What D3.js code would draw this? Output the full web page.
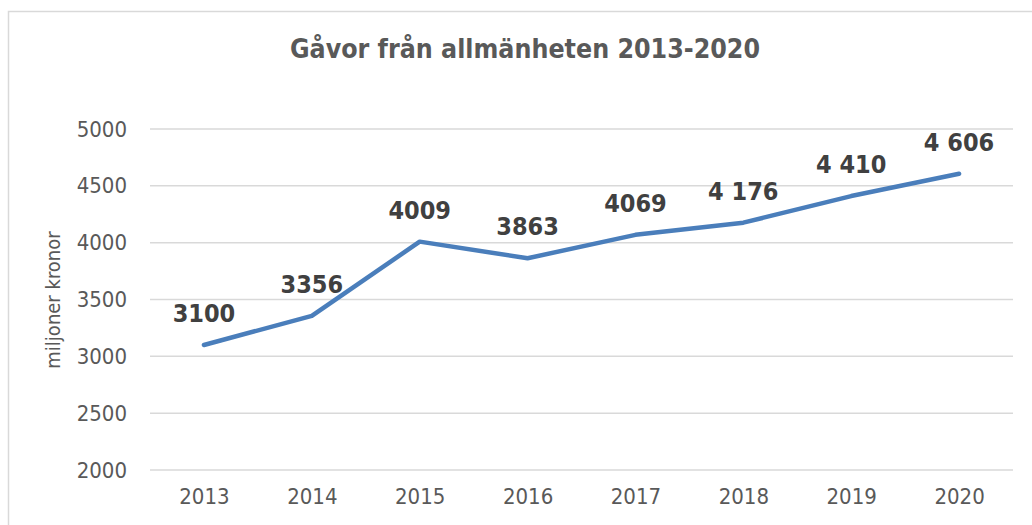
<!DOCTYPE html>
<html>
<head>
<meta charset="utf-8">
<script src="https://cdn.jsdelivr.net/npm/d3@7"></script>
<style>
  body { margin: 0; background: #fff; }
  svg { display: block; font-family: "DejaVu Sans Condensed", "DejaVu Sans", sans-serif; }
</style>
</head>
<body>
<svg width="1032" height="525"></svg>
<script>
// data
const years = ["2013", "2014", "2015", "2016", "2017", "2018", "2019", "2020"];
const gifts = [3100, 3356, 4009, 3863, 4069, 4176, 4410, 4606];
const giftLabels = ["3100", "3356", "4009", "3863", "4069", "4 176", "4 410", "4 606"];
const yTicks = [2000, 2500, 3000, 3500, 4000, 4500, 5000];

const svg = d3.select("svg");
const margin = { top: 129, left: 150, right: 19, bottom: 55 };
const width = 1032, height = 525;

// chart frame (only top + left visible in the crop)
svg.append("path")
  .attr("d", `M8.5,${height} V11.5 H${width}`)
  .attr("fill", "none")
  .attr("stroke", "#d9d9d9")
  .attr("stroke-width", 1.5);

svg.append("text")
  .attr("x", 525)
  .attr("y", 58)
  .attr("text-anchor", "middle")
  .attr("font-size", 26.5)
  .attr("font-weight", "bold")
  .attr("fill", "#595959")
  .text("Gåvor från allmänheten 2013-2020");

const x = d3.scalePoint()
  .domain(years)
  .range([margin.left, width - margin.right])
  .padding(0.5);

const y = d3.scaleLinear()
  .domain([2000, 5000])
  .range([470, margin.top]);

// gridlines
svg.append("g")
  .selectAll("line")
  .data(yTicks)
  .join("line")
  .attr("x1", margin.left)
  .attr("x2", width - margin.right)
  .attr("y1", d => y(d))
  .attr("y2", d => y(d))
  .attr("stroke", "#d9d9d9")
  .attr("stroke-width", 1.5);

// y axis labels
const yAxis = svg.append("g")
  .attr("transform", `translate(${margin.left},0)`)
  .call(d3.axisLeft(y).tickValues(yTicks).tickFormat(d3.format("d")).tickSize(0).tickPadding(23))
  .attr("font-family", null)
  .attr("font-size", null);
yAxis.select(".domain").remove();
yAxis.selectAll("text")
  .attr("font-size", 22)
  .attr("fill", "#595959");

// x axis labels
const xAxis = svg.append("g")
  .attr("transform", `translate(0,470)`)
  .call(d3.axisBottom(x).tickSize(0).tickPadding(18))
  .attr("font-family", null)
  .attr("font-size", null);
xAxis.select(".domain").remove();
xAxis.selectAll("text")
  .attr("font-size", 22)
  .attr("fill", "#595959");

svg.append("text")
  .attr("transform", "translate(60,300) rotate(-90)")
  .attr("text-anchor", "middle")
  .attr("font-size", 20)
  .attr("fill", "#595959")
  .text("miljoner kronor");

const line = d3.line()
  .x((d, i) => x(years[i]))
  .y(d => y(d));

svg.append("path")
  .datum(gifts)
  .attr("d", line)
  .attr("fill", "none")
  .attr("stroke", "#4a7ebb")
  .attr("stroke-width", 4.5)
  .attr("stroke-linejoin", "round")
  .attr("stroke-linecap", "round");

svg.append("g")
  .selectAll("text")
  .data(gifts)
  .join("text")
  .attr("x", (d, i) => x(years[i]))
  .attr("y", d => y(d) - 23)
  .attr("text-anchor", "middle")
  .attr("font-size", 25)
  .attr("font-weight", "bold")
  .attr("fill", "#404040")
  .text((d, i) => giftLabels[i]);
</script>
</body>
</html>
